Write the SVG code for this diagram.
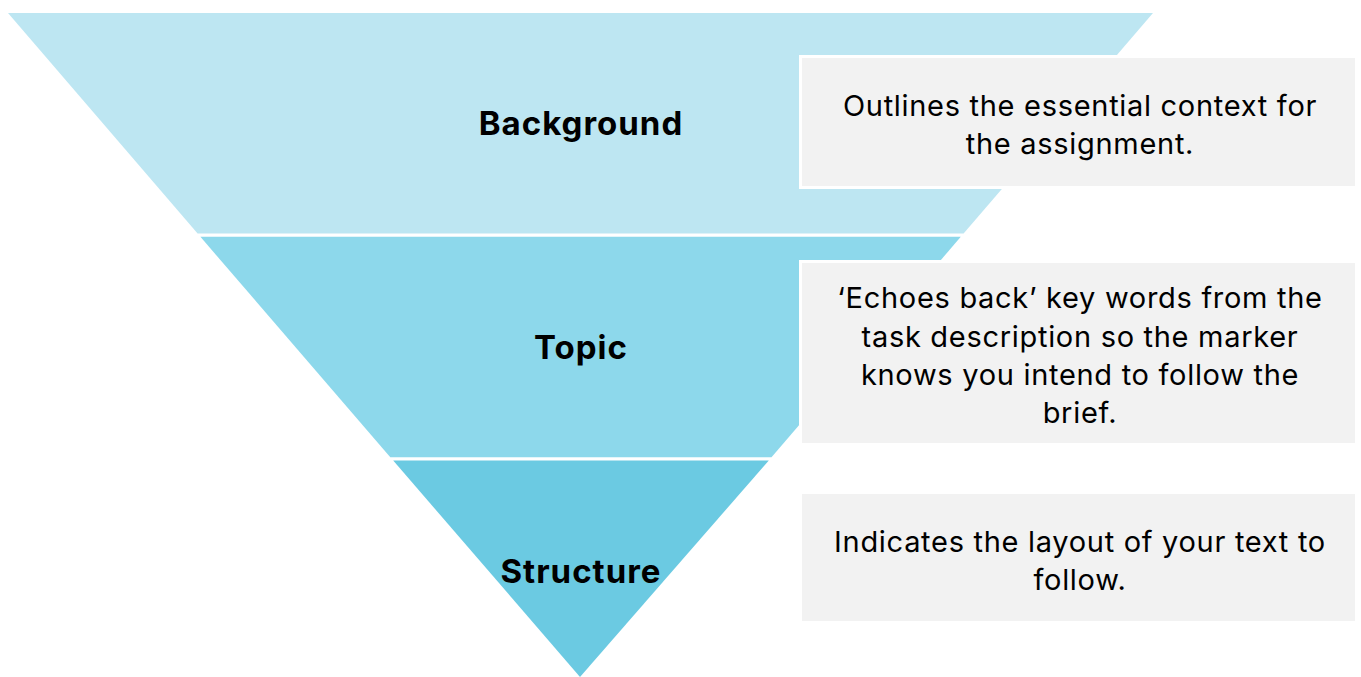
<svg xmlns="http://www.w3.org/2000/svg" width="1361" height="677" viewBox="0 0 1361 677">
<style>
.lbl{font-family:Inter,"Liberation Sans",Arial,sans-serif;font-weight:bold;font-size:33px;letter-spacing:1px;fill:#000;text-anchor:middle}
.desc{font-family:Inter,"Liberation Sans",Arial,sans-serif;font-size:29px;letter-spacing:0.7px;fill:#000;text-anchor:middle}
.box{fill:#F2F2F2;stroke:#FFFFFF;stroke-width:3}
</style>
<rect width="1361" height="677" fill="#FFFFFF"/>
<g id="band-background">
<polygon points="8,13 1153,13 963.6,233.5 197.6,233.5" fill="#BDE6F2"/>
<text class="lbl" x="581" y="135">Background</text>
</g>
<g id="band-topic">
<polygon points="200.4,236.8 960.8,236.8 771.5,457.3 390.3,457.3" fill="#8DD8EB"/>
<text class="lbl" x="581" y="359">Topic</text>
</g>
<g id="band-structure">
<polygon points="393.2,460.5 768.8,460.5 580,677" fill="#6BCAE2"/>
<text class="lbl" x="581" y="583">Structure</text>
</g>
<g id="box-1">
<rect class="box" x="800.5" y="56.5" width="556" height="131"/>
<text class="desc" x="1080" y="116">Outlines the essential context for</text>
<text class="desc" x="1080" y="154">the assignment.</text>
</g>
<g id="box-2">
<rect class="box" x="800.5" y="261.5" width="556" height="183"/>
<text class="desc" x="1080" y="308">‘Echoes back’ key words from the</text>
<text class="desc" x="1080" y="347">task description so the marker</text>
<text class="desc" x="1080" y="385">knows you intend to follow the</text>
<text class="desc" x="1080" y="423">brief.</text>
</g>
<g id="box-3">
<rect class="box" x="800.5" y="492.5" width="556" height="130"/>
<text class="desc" x="1080" y="552">Indicates the layout of your text to</text>
<text class="desc" x="1080" y="590">follow.</text>
</g>
<g id="connectors"></g>
</svg>
